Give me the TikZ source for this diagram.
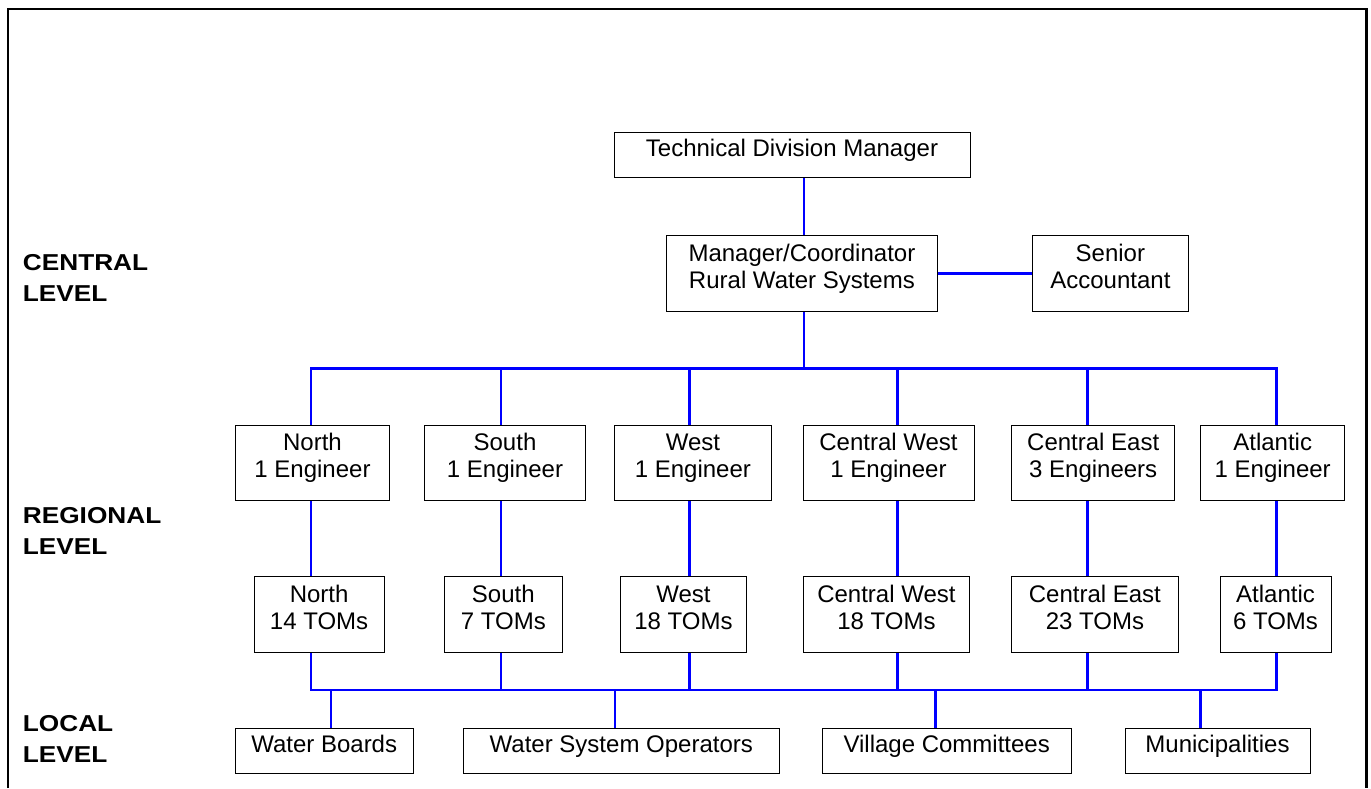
\documentclass[tikz,border=0pt]{standalone}
\usepackage{fontspec}
\setmainfont{Liberation Sans}
\usepackage{graphicx}

% text rows with fixed struts so every box sets its lines at the same height
\newcommand{\oneln}[1]{\rule{0pt}{18pt}#1\rule[-14.6pt]{0pt}{0pt}}
\newcommand{\twoln}[2]{\rule{0pt}{18pt}#1\\#2\rule[-14.6pt]{0pt}{0pt}}
\newcommand{\lvl}[1]{\scalebox{1.14}[1]{#1}}

\tikzset{
  orgbox/.style={draw=black, line width=1pt, inner sep=0pt, align=center,
    font=\fontsize{24}{27}\selectfont},
  row1/.style={orgbox, minimum height=75.3pt},
  row2/.style={orgbox, minimum height=76.3pt},
  row3/.style={orgbox, minimum height=45.3pt},
  conn/.style={draw=blue, line width=2.5pt, line join=miter},
  lvltext/.style={inner sep=0pt, anchor=west, align=left,
    font=\bfseries\fontsize{23}{31}\selectfont},
  frame/.style={line width=2.3pt}
}

\begin{document}
\begin{tikzpicture}[x=1pt, y=-1pt]
\useasboundingbox (0,0) rectangle (1371,788);

% outer frame, open at the bottom
\draw[frame] (7.8,788) -- (7.8,9.3) -- (1366.5,9.3) -- (1366.5,788);

% level captions
\node[lvltext] (lvcentral) at (22.7,278.3) {\lvl{CENTRAL}\\\lvl{LEVEL}};
\node[lvltext] (lvregional) at (22.7,530.5) {\lvl{REGIONAL}\\\lvl{LEVEL}};
\node[lvltext] (lvlocal) at (22.7,738.9) {\lvl{LOCAL}\\\lvl{LEVEL}};

% central level
\node[orgbox, minimum width=356pt, minimum height=45.4pt] (tdm) at (792,155) {\oneln{Technical Division Manager}};
\node[orgbox, minimum width=271.7pt, minimum height=75.6pt] (mc) at (801.9,273.5) {\twoln{Manager/Coordinator}{Rural Water Systems}};
\node[orgbox, minimum width=155.3pt, minimum height=75.6pt] (sa) at (1110.4,273.5) {\twoln{Senior}{Accountant}};

% regional engineers
\node[row1, minimum width=154.4pt] (nE) at (312.5,462.7) {\twoln{North}{1 Engineer}};
\node[row1, minimum width=160.6pt] (sE) at (505,462.7) {\twoln{South}{1 Engineer}};
\node[row1, minimum width=157.7pt] (wE) at (692.9,462.7) {\twoln{West}{1 Engineer}};
\node[row1, minimum width=171pt] (cwE) at (888.5,462.7) {\twoln{Central West}{1 Engineer}};
\node[row1, minimum width=163pt] (ceE) at (1093.2,462.7) {\twoln{Central East}{3 Engineers}};
\node[row1, minimum width=144pt] (aE) at (1272.7,462.7) {\twoln{Atlantic}{1 Engineer}};

% regional TOMs
\node[row2, minimum width=129.8pt] (nT) at (319.1,614.2) {\twoln{North}{14 TOMs}};
\node[row2, minimum width=117.4pt] (sT) at (503.3,614.2) {\twoln{South}{7 TOMs}};
\node[row2, minimum width=126.7pt] (wT) at (683.4,614.2) {\twoln{West}{18 TOMs}};
\node[row2, minimum width=166.7pt] (cwT) at (886.4,614.2) {\twoln{Central West}{18 TOMs}};
\node[row2, minimum width=166.3pt] (ceT) at (1094.9,614.2) {\twoln{Central East}{23 TOMs}};
\node[row2, minimum width=111pt] (aT) at (1275.5,614.2) {\twoln{Atlantic}{6 TOMs}};

% local level
\node[row3, minimum width=177.6pt] (wb) at (324.2,750.7) {\oneln{Water Boards}};
\node[row3, minimum width=315.5pt] (wso) at (621.3,750.7) {\oneln{Water System Operators}};
\node[row3, minimum width=249.3pt] (vc) at (946.7,750.7) {\oneln{Village Committees}};
\node[row3, minimum width=185pt] (mun) at (1217.5,750.7) {\oneln{Municipalities}};

% guide coordinates for the connector lines
\coordinate (spine) at (804,0);
\coordinate (bus1) at (0,368.3);
\coordinate (bus2) at (0,690);
\coordinate (c1) at (311,0);
\coordinate (c2) at (501,0);
\coordinate (c3) at (689.7,0);
\coordinate (c4) at (897.7,0);
\coordinate (c5) at (1087.3,0);
\coordinate (c6) at (1276.7,0);
\coordinate (d1) at (330.8,0);
\coordinate (d2) at (615,0);
\coordinate (d3) at (935.7,0);
\coordinate (d4) at (1200.7,0);

% central links
\draw[conn] (tdm.south -| spine) -- (mc.north -| spine);
\draw[conn] (mc.east) -- (sa.west);
\draw[conn] (mc.south -| spine) -- (spine |- bus1);

% upper bus to the engineers
\draw[conn] (nE.north -| c1) -- (c1 |- bus1) -- (c6 |- bus1) -- (aE.north -| c6);
\draw[conn] (c2 |- bus1) -- (sE.north -| c2);
\draw[conn] (c3 |- bus1) -- (wE.north -| c3);
\draw[conn] (c4 |- bus1) -- (cwE.north -| c4);
\draw[conn] (c5 |- bus1) -- (ceE.north -| c5);

% engineers to TOMs
\draw[conn] (nE.south -| c1) -- (nT.north -| c1);
\draw[conn] (sE.south -| c2) -- (sT.north -| c2);
\draw[conn] (wE.south -| c3) -- (wT.north -| c3);
\draw[conn] (cwE.south -| c4) -- (cwT.north -| c4);
\draw[conn] (ceE.south -| c5) -- (ceT.north -| c5);
\draw[conn] (aE.south -| c6) -- (aT.north -| c6);

% lower bus
\draw[conn] (nT.south -| c1) -- (c1 |- bus2) -- (c6 |- bus2) -- (aT.south -| c6);
\draw[conn] (sT.south -| c2) -- (c2 |- bus2);
\draw[conn] (wT.south -| c3) -- (c3 |- bus2);
\draw[conn] (cwT.south -| c4) -- (c4 |- bus2);
\draw[conn] (ceT.south -| c5) -- (c5 |- bus2);

% lower bus to the local bodies
\draw[conn] (d1 |- bus2) -- (wb.north -| d1);
\draw[conn] (d2 |- bus2) -- (wso.north -| d2);
\draw[conn] (d3 |- bus2) -- (vc.north -| d3);
\draw[conn] (d4 |- bus2) -- (mun.north -| d4);
\end{tikzpicture}
\end{document}
